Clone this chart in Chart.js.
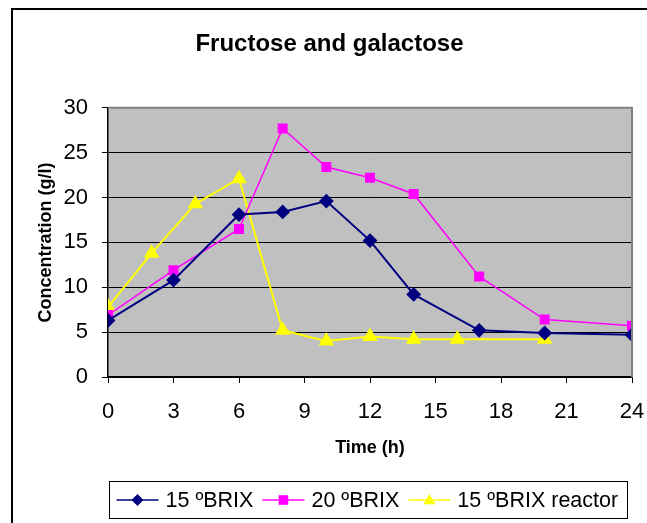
<!DOCTYPE html>
<html>
<head>
<meta charset="utf-8">
<script src="https://cdn.jsdelivr.net/npm/chart.js@4/dist/chart.umd.min.js"></script>
<style>
  body { margin: 0; background: #fff; }
  canvas { display: block; }
</style>
</head>
<body>
<canvas id="chart" width="647" height="523"></canvas>
<script>
// hours sampled per run
const hours = [0, 3, 6, 8, 10, 12, 14, 17, 20, 24];
const hoursReactor = [0, 2, 4, 6, 8, 10, 12, 14, 16, 20];

// fructose + galactose concentration (g/l)
const brix15 = [6.3, 10.8, 18.1, 18.4, 19.6, 15.2, 9.2, 5.2, 4.9, 4.7];
const brix20 = [6.9, 11.9, 16.5, 27.7, 23.4, 22.2, 20.4, 11.2, 6.4, 5.7];
const brix15Reactor = [7.8, 13.8, 19.3, 22.1, 5.2, 4.0, 4.5, 4.2, 4.2, 4.2];

const seriesLabels = ['15 ºBRIX', '20 ºBRIX', '15 ºBRIX reactor'];

const FONT = '"Liberation Sans", Arial, sans-serif';

function toPoints(xs, ys) {
    return xs.map((x, i) => ({ x: x, y: ys[i] }));
}

// draw a marker like Excel's (used by the legend)
function drawMarker(ctx, style, x, y, r, color) {
    ctx.save();
    ctx.fillStyle = color;
    ctx.beginPath();
    if (style === 'rectRot') {
        ctx.moveTo(x, y - r); ctx.lineTo(x + r, y); ctx.lineTo(x, y + r); ctx.lineTo(x - r, y);
    } else if (style === 'rect') {
        ctx.rect(x - r * 0.8, y - r * 0.8, r * 1.6, r * 1.6);
    } else {
        ctx.moveTo(x, y - r); ctx.lineTo(x + r, y + r * 0.7); ctx.lineTo(x - r, y + r * 0.7);
    }
    ctx.closePath();
    ctx.fill();
    ctx.restore();
}

const backgroundPlugin = {
    id: 'background',
    beforeDraw(chart) {
        const { ctx, chartArea: a } = chart;
        ctx.save();
        // outer frame (runs off the right/bottom of the picture)
        ctx.strokeStyle = '#000';
        ctx.lineWidth = 2;
        ctx.strokeRect(12, 9, 700, 600);
        // plot area
        ctx.fillStyle = '#c0c0c0';
        ctx.fillRect(a.left, a.top, a.right - a.left, a.bottom - a.top);
        ctx.restore();
    },
    afterDatasetsDraw(chart) {
        const { ctx, chartArea: a } = chart;
        ctx.save();
        ctx.strokeStyle = '#808080';
        ctx.lineWidth = 2;
        ctx.beginPath();
        ctx.moveTo(a.left, a.top);
        ctx.lineTo(a.right, a.top);
        ctx.lineTo(a.right, a.bottom);
        ctx.stroke();
        ctx.restore();
    }
};

const legendPlugin = {
    id: 'boxLegend',
    afterDraw(chart) {
        const ctx = chart.ctx;
        const box = { left: 109.5, top: 481.5, right: 627.5, bottom: 518.5 };
        ctx.save();
        ctx.fillStyle = '#fff';
        ctx.fillRect(box.left, box.top, box.right - box.left, box.bottom - box.top);
        ctx.strokeStyle = '#000';
        ctx.lineWidth = 1;
        ctx.strokeRect(box.left, box.top, box.right - box.left, box.bottom - box.top);
        ctx.font = '21.5px ' + FONT;
        ctx.textBaseline = 'middle';
        const y = (box.top + box.bottom) / 2;
        let x = box.left + 7;
        chart.data.datasets.forEach(ds => {
            ctx.strokeStyle = ds.borderColor;
            ctx.lineWidth = 1.5;
            ctx.beginPath();
            ctx.moveTo(x, y);
            ctx.lineTo(x + 42, y);
            ctx.stroke();
            drawMarker(ctx, ds.pointStyle, x + 21, y, 6, ds.borderColor);
            x += 49;
            ctx.fillStyle = '#000';
            ctx.fillText(ds.label, x, y + 1);
            x += ctx.measureText(ds.label).width + 9;
        });
        ctx.restore();
    }
};

const config = {
    type: 'line',
    data: {
        datasets: [{
            label: seriesLabels[0],
            data: toPoints(hours, brix15),
            borderColor: '#000080',
            backgroundColor: '#000080',
            pointStyle: 'rectRot',
            pointRadius: 6,
            borderWidth: 2
        }, {
            label: seriesLabels[1],
            data: toPoints(hours, brix20),
            borderColor: '#ff00ff',
            backgroundColor: '#ff00ff',
            pointStyle: 'rect',
            pointRadius: 6,
            borderWidth: 1.5
        }, {
            label: seriesLabels[2],
            data: toPoints(hoursReactor, brix15Reactor),
            borderColor: '#ffff00',
            backgroundColor: '#ffff00',
            pointStyle: 'triangle',
            pointRadius: 7,
            borderWidth: 2
        }]
    },
    options: {
        responsive: false,
        animation: false,
        devicePixelRatio: 1,
        layout: { padding: { left: 12, right: 0, top: 0, bottom: 63 } },
        elements: {
            line: { tension: 0, fill: false },
            point: { borderWidth: 0 }
        },
        scales: {
            x: {
                type: 'linear',
                min: 0,
                max: 24,
                afterFit(scale) {
                    scale.height = 83;
                    scale.paddingRight = 15;
                },
                border: { color: '#000', width: 1.5 },
                grid: { drawOnChartArea: false, drawTicks: true, tickLength: 6, color: '#000' },
                ticks: {
                    stepSize: 3,
                    padding: 16,
                    maxRotation: 0,
                    color: '#000',
                    font: { family: FONT, size: 22 }
                },
                title: {
                    display: true,
                    text: 'Time (h)',
                    color: '#000',
                    padding: { top: 0, bottom: 1 },
                    font: { family: FONT, size: 18, weight: 'bold' }
                }
            },
            y: {
                min: 0,
                max: 30,
                afterFit(scale) { scale.width = 96; },
                border: { color: '#000', width: 1.5 },
                grid: { color: '#000', lineWidth: 1, tickLength: 6 },
                ticks: {
                    stepSize: 5,
                    padding: 14,
                    color: '#000',
                    font: { family: FONT, size: 22 }
                },
                title: {
                    display: true,
                    text: 'Concentration (g/l)',
                    color: '#000',
                    padding: { top: 23, bottom: 0 },
                    font: { family: FONT, size: 18, weight: 'bold' }
                }
            }
        },
        plugins: {
            legend: { display: false },
            tooltip: { enabled: false },
            title: {
                display: true,
                text: 'Fructose and galactose',
                color: '#000',
                padding: { top: 30, bottom: 49 },
                font: { family: FONT, size: 24, weight: 'bold' }
            }
        }
    },
    plugins: [backgroundPlugin, legendPlugin]
};

const chart = new Chart(document.getElementById('chart').getContext('2d'), config);
</script>
</body>
</html>
